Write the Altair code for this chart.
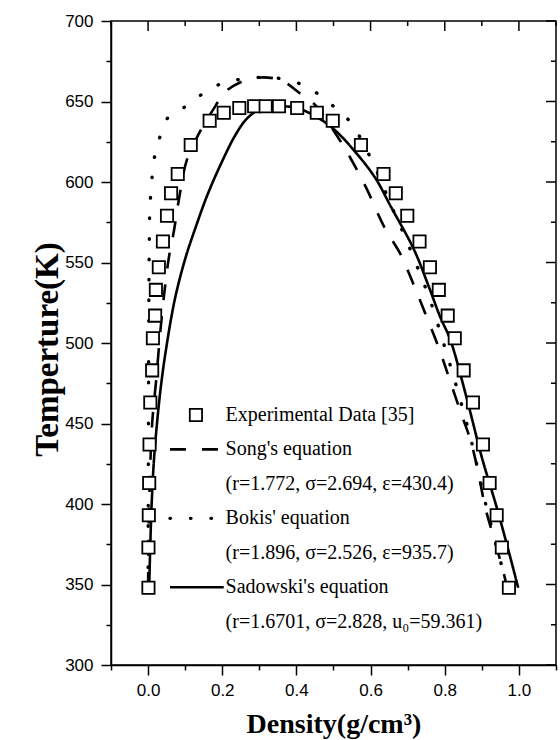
import altair as alt
import pandas as pd

# ---------------- data ----------------
exp_rho = [0.001, 0.001, 0.002, 0.003, 0.004, 0.006, 0.011, 0.013, 0.019, 0.021, 0.029,
           0.040, 0.051, 0.062, 0.080, 0.115, 0.166, 0.204, 0.246, 0.286, 0.317,
           0.353, 0.402, 0.455, 0.498, 0.574, 0.635, 0.668, 0.699, 0.732, 0.760,
           0.784, 0.808, 0.827, 0.851, 0.876, 0.903, 0.921, 0.940, 0.954, 0.973]
exp_T = [348, 373, 393, 413, 437, 463, 483, 503, 517, 533, 547,
         563, 579, 593, 605, 623, 638, 643, 646, 647, 647,
         647, 646, 643, 638, 623, 605, 593, 579, 563, 547,
         533, 517, 503, 483, 463, 437, 413, 393, 373, 348]

song_rho = [0.000, 0.003, 0.011, 0.021, 0.038, 0.056, 0.070, 0.083, 0.105, 0.137,
            0.181, 0.208, 0.260, 0.310, 0.360, 0.410, 0.450, 0.500, 0.538, 0.587,
            0.637, 0.681, 0.713, 0.748, 0.784, 0.815, 0.846, 0.869, 0.890, 0.909,
            0.931, 0.958, 0.968]
song_T = [348, 400, 450, 475, 519, 553, 570, 589, 614, 630,
          647, 656, 663, 665, 663, 655, 648, 632, 618, 597,
          572, 555, 538, 518, 497, 476, 455, 440, 420, 398,
          380, 358, 348]

bokis_rho = [0.000, 0.001, 0.003, 0.005, 0.010, 0.016, 0.028, 0.046, 0.061, 0.110,
             0.160, 0.210, 0.260, 0.330, 0.420, 0.500, 0.546, 0.600, 0.660, 0.700,
             0.735, 0.760, 0.790, 0.815, 0.845, 0.875, 0.905, 0.935, 0.958, 0.972]
bokis_T = [348, 450, 556, 584, 601, 614, 625, 637, 642, 648,
           657, 662, 664, 665, 660, 647, 637, 615, 583, 562,
           542, 527, 505, 486, 462, 436, 405, 378, 358, 348]

sad_rho = [0.003, 0.006, 0.010, 0.016, 0.024, 0.034, 0.047, 0.072, 0.101, 0.130,
           0.160, 0.198, 0.235, 0.265, 0.300, 0.350, 0.400, 0.450, 0.500, 0.565,
           0.614, 0.654, 0.717, 0.757, 0.788, 0.815, 0.860, 0.900, 0.940, 0.972,
           0.998]
sad_T = [348, 375, 402, 428, 450, 472, 494, 527, 553, 573,
         592, 612, 629, 639, 645, 647, 646, 641, 633, 617,
         602, 585, 558, 535, 516, 502, 465, 429, 398, 371,
         348]

legend_labels = [
    "Experimental Data [35]",
    "Song's equation",
    "(r=1.772, σ=2.694, ε=430.4)",
    "Bokis' equation",
    "(r=1.896, σ=2.526, ε=935.7)",
    "Sadowski's equation",
    "(r=1.6701, σ=2.828, u₀=59.361)",
]

x_major = [0.0, 0.2, 0.4, 0.6, 0.8, 1.0]
x_minor = [-0.1, 0.1, 0.3, 0.5, 0.7, 0.9, 1.1]
y_major = [300, 350, 400, 450, 500, 550, 600, 650, 700]
y_minor = [325, 375, 425, 475, 525, 575, 625, 675]

# ---------------- scales ----------------
XDOM = [-0.1, 1.1]
YDOM = [300, 700]
xs = alt.Scale(domain=XDOM, nice=False, zero=False)
ys = alt.Scale(domain=YDOM, nice=False, zero=False)

W, H = 445, 644
MAJ, MIN = 10, 5

exp_df = pd.DataFrame({"rho": exp_rho, "T": exp_T})


def curve_df(rho, T):
    return pd.DataFrame({"rho": rho, "T": T, "i": list(range(len(rho)))})


# legend placement (data units)
leg_T0 = 455.3
leg_step = 21.4
leg_text_x = 0.209
leg_line_x = (0.059, 0.204)
leg_sym_x = 0.129
leg_T = [leg_T0 - k * leg_step for k in range(len(legend_labels))]

styles = {
    "Song": dict(strokeDash=[16, 16], strokeCap="butt", strokeWidth=2.6),
    "Bokis": dict(strokeDash=[0.5, 20], strokeCap="round", strokeWidth=3.4),
    "Sadowski": dict(strokeDash=[1, 0], strokeCap="butt", strokeWidth=2.6),
}
curves = {
    "Song": (song_rho, song_T, 1),
    "Bokis": (bokis_rho, bokis_T, 3),
    "Sadowski": (sad_rho, sad_T, 5),
}

layers = []
for name, (r, t, row) in curves.items():
    st = styles[name]
    layers.append(
        alt.Chart(curve_df(r, t)).mark_line(color="black", interpolate="catmull-rom", **st).encode(
            x=alt.X("rho:Q", scale=xs, axis=None),
            y=alt.Y("T:Q", scale=ys, axis=None),
            order="i:Q",
        )
    )
    seg = pd.DataFrame({"rho": list(leg_line_x), "T": [leg_T[row]] * 2, "i": [0, 1]})
    layers.append(
        alt.Chart(seg).mark_line(color="black", **st).encode(
            x=alt.X("rho:Q", scale=xs, axis=None),
            y=alt.Y("T:Q", scale=ys, axis=None),
            order="i:Q",
        )
    )

# experimental squares with the main (left/bottom) axes
is_major_x = "abs(round(datum.value*10)) % 2 == 0"
is_major_y = "datum.value % 50 == 0"
squares = alt.Chart(exp_df).mark_point(
    shape="square", filled=True, fill="white", stroke="black", strokeWidth=1.8, size=150, opacity=1
).encode(
    x=alt.X(
        "rho:Q",
        scale=xs,
        title="Density(g/cm³)",
        axis=alt.Axis(
            values=sorted(x_major + x_minor),
            format=".1f",
            labelExpr=f"{is_major_x} ? datum.label : ''",
            tickSize={"condition": {"test": is_major_x, "value": MAJ}, "value": MIN},
            labelPadding=7,
            titleFontSize=28,
            titleBaseline="alphabetic",
            titleY=67,
        ),
    ),
    y=alt.Y(
        "T:Q",
        scale=ys,
        title="Temperture(K)",
        axis=alt.Axis(
            values=sorted(y_major + y_minor),
            format="d",
            labelExpr=f"{is_major_y} ? datum.label : ''",
            tickSize={"condition": {"test": is_major_y, "value": MAJ}, "value": MIN},
            labelPadding=8,
            titleFontSize=33,
            titleAngle=270,
            titleBaseline="alphabetic",
            titleAlign="center",
            titleX=-54,
            titleY=H / 2 + 6,
        ),
    ),
)
layers.append(squares)

# inward ticks on the top and right edges (positions from the shared scales)
for vals, ln in ((x_major, MAJ), (x_minor, MIN)):
    layers.append(
        alt.Chart(pd.DataFrame({"v": vals})).mark_rule(color="black", strokeWidth=1.5).encode(
            x=alt.X("v:Q", scale=xs, axis=None),
            y=alt.value(0),
            y2=alt.value(ln),
        )
    )
for vals, ln in ((y_major, MAJ), (y_minor, MIN)):
    layers.append(
        alt.Chart(pd.DataFrame({"v": vals})).mark_rule(color="black", strokeWidth=1.5).encode(
            y=alt.Y("v:Q", scale=ys, axis=None),
            x=alt.value(W),
            x2=alt.value(W - ln),
        )
    )

# legend symbol and texts
leg_sym = pd.DataFrame({"rho": [leg_sym_x], "T": [leg_T[0]]})
layers.append(
    alt.Chart(leg_sym).mark_point(
        shape="square", filled=True, fill="white", stroke="black", strokeWidth=1.8, size=150, opacity=1
    ).encode(x=alt.X("rho:Q", scale=xs, axis=None), y=alt.Y("T:Q", scale=ys, axis=None))
)
leg_txt = pd.DataFrame({"label": legend_labels, "rho": [leg_text_x] * len(legend_labels), "T": leg_T})
layers.append(
    alt.Chart(leg_txt).mark_text(
        align="left", baseline="middle", font="Liberation Serif", fontSize=20, color="black"
    ).encode(
        x=alt.X("rho:Q", scale=xs, axis=None),
        y=alt.Y("T:Q", scale=ys, axis=None),
        text="label:N",
    )
)

chart = (
    alt.layer(*layers)
    .resolve_axis(x="independent", y="independent")
    .properties(
        width=W,
        height=H,
        autosize=alt.AutoSizeParams(type="none"),
        padding={"left": 111, "top": 21, "right": 4, "bottom": 75},
        background="white",
    )
    .configure_view(stroke="black", strokeWidth=1.5)
    .configure_axis(
        grid=False,
        labelFont="Liberation Sans",
        labelFontSize=17,
        labelColor="black",
        tickColor="black",
        tickWidth=1.5,
        domainColor="black",
        domainWidth=1.5,
        titleFont="Liberation Serif",
        titleFontWeight="bold",
        titleColor="black",
    )
)

chart.save("out.html", embed_options={"renderer": "svg", "actions": False})
